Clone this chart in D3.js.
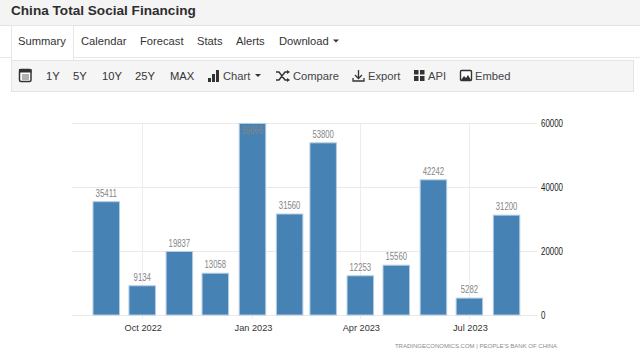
<!DOCTYPE html>
<html>
<head>
<meta charset="utf-8">
<script src="https://cdn.jsdelivr.net/npm/d3@7"></script>
<style>
  html, body { margin: 0; padding: 0; background: #fff; }
  svg { display: block; }
  text { font-family: "Liberation Sans", Arial, sans-serif; }
</style>
</head>
<body>
<svg id="chart" width="640" height="364"></svg>
<script>
const months = ["2022-09-01", "2022-10-01", "2022-11-01", "2022-12-01", "2023-01-01", "2023-02-01",
  "2023-03-01", "2023-04-01", "2023-05-01", "2023-06-01", "2023-07-01", "2023-08-01"];
const financing = [35411, 9134, 19837, 13058, 59866, 31560, 53800, 12253, 15560, 42242, 5282, 31200];
const yTicks = [0, 20000, 40000, 60000];
const xTicks = ["2022-10-01", "2023-01-01", "2023-04-01", "2023-07-01"];
const tabs = ["Summary", "Calendar", "Forecast", "Stats", "Alerts", "Download"];
const tabX = [18, 81, 140, 197, 236, 279];
const ranges = ["1Y", "5Y", "10Y", "25Y", "MAX"];
const rangeX = [46, 73, 102, 135, 170];
const tools = ["Chart", "Compare", "Export", "API", "Embed"];
const toolX = [223, 293, 368, 428, 475];

const svg = d3.select("#chart");
const parse = d3.utcParse("%Y-%m-%d");
const fmt = d3.utcFormat("%b %Y");

// cabecera y barras de la pagina
svg.append("rect").attr("width", 640).attr("height", 25).attr("fill", "#f4f4f4");
svg.append("rect").attr("y", 25).attr("width", 640).attr("height", 1).attr("fill", "#e2e2e2");
svg.append("text").attr("x", 11).attr("y", 15).attr("font-size", 13.6).attr("font-weight", "bold")
  .attr("fill", "#2d2d2d").text("China Total Social Financing");

svg.append("rect").attr("y", 57).attr("width", 640).attr("height", 1).attr("fill", "#e8e8e8");
svg.append("rect").attr("x", 11.5).attr("y", 25.5).attr("width", 62).attr("height", 34)
  .attr("fill", "#fff").attr("stroke", "#e6e6e6");
svg.append("rect").attr("x", 12).attr("y", 57).attr("width", 61).attr("height", 3).attr("fill", "#fff");

svg.selectAll(".tab").data(tabs).join("text").attr("class", "tab")
  .attr("x", (d, i) => tabX[i]).attr("y", 45).attr("font-size", 11.2).attr("fill", "#333").text(d => d);
svg.append("path").attr("d", "M333 39.500h6l-3 3z").attr("fill", "#333");

svg.append("rect").attr("x", 11.5).attr("y", 60.5).attr("width", 622).attr("height", 31)
  .attr("fill", "#f5f5f5").attr("stroke", "#e4e4e4");

svg.selectAll(".range").data(ranges).join("text").attr("class", "range")
  .attr("x", (d, i) => rangeX[i]).attr("y", 79.5).attr("font-size", 11.2).attr("fill", "#333").text(d => d);
svg.selectAll(".tool").data(tools).join("text").attr("class", "tool")
  .attr("x", (d, i) => toolX[i]).attr("y", 79.5).attr("font-size", 11.2).attr("fill", "#444").text(d => d);

// iconos
const icons = svg.append("g").attr("fill", "#333");
icons.append("rect").attr("x", 19.5).attr("y", 69.5).attr("width", 11.5).attr("height", 12).attr("rx", 1.5)
  .attr("fill", "#fff").attr("stroke", "#333").attr("stroke-width", 1.5);
icons.append("rect").attr("x", 19).attr("y", 69).attr("width", 12.5).attr("height", 3.500);
icons.append("path").attr("d", "M22 74.500h7v1h-7zM22 76.500h7v1h-7zM22 78.500h7v1h-7z").attr("fill", "#666");
icons.append("path").attr("d", "M208 78h3v4h-3zM212 74h3v8h-3zM216 70h3v12h-3z");
icons.append("path").attr("d", "M255 74h6l-3 3z");
icons.append("path").attr("d", "M276 72h3l6 8h3M276 80h3l6-8h3").attr("fill", "none").attr("stroke", "#333").attr("stroke-width", 1.4);
icons.append("path").attr("d", "M287 70v4l3-2zM287 78v4l3-2z");
icons.append("path").attr("d", "M358.500 70v8M355 75l3.500 3.500 3.500-3.500M353 78v3h11v-3").attr("fill", "none").attr("stroke", "#333").attr("stroke-width", 1.3);
icons.append("path").attr("d", "M414 70h4.500v4.500h-4.500zM420 70h4.500v4.500h-4.500zM414 76h4.500v5h-4.500zM420 76h4.500v5h-4.500z");
icons.append("rect").attr("x", 460.500).attr("y", 70.500).attr("width", 11).attr("height", 10).attr("rx", 1)
  .attr("fill", "#fff").attr("stroke", "#333").attr("stroke-width", 1.4);
icons.append("path").attr("d", "M461 80l3-4 2 2 2-3 3 5z");

// escalas
const x = d3.scaleUtc()
  .domain([parse("2022-08-03"), parse("2023-08-26")])
  .range([72, 537]);
const y = d3.scaleLinear().domain([0, 60000]).range([315, 123]);
const barW = 26.5;

// grilla
svg.append("g").selectAll("line").data(yTicks).join("line")
  .attr("x1", 72).attr("x2", 537)
  .attr("y1", d => y(d) + 0.5).attr("y2", d => y(d) + 0.5)
  .attr("stroke", "#e9e9e9");
svg.append("g").selectAll("line").data(xTicks).join("line")
  .attr("x1", d => Math.round(x(parse(d))) - 0.5).attr("x2", d => Math.round(x(parse(d))) - 0.5)
  .attr("y1", 123).attr("y2", 319)
  .attr("stroke", "#ececec");

// barras
svg.append("g").selectAll("rect").data(financing).join("rect")
  .attr("x", (d, i) => x(parse(months[i])) - barW / 2 - 0.5)
  .attr("width", barW)
  .attr("y", d => y(d))
  .attr("height", d => y(0) - y(d))
  .attr("fill", "#4682b4")
  .attr("stroke", "#b5cde3")
  .attr("stroke-width", 1);

// etiquetas de valores
svg.append("g").selectAll("text").data(financing).join("text")
  .attr("x", (d, i) => x(parse(months[i])) - 0.5)
  .attr("y", d => d > 59000 ? y(d) + 11 : y(d) - 5)
  .attr("text-anchor", "middle")
  .attr("font-size", 10.5)
  .attr("textLength", d => String(d).length * 4.3)
  .attr("lengthAdjust", "spacingAndGlyphs")
  .attr("fill", "#858585")
  .text(d => d);

// ejes
const xAxis = d3.axisBottom(x)
  .tickValues(xTicks.map(parse))
  .tickFormat(fmt)
  .tickSize(0)
  .tickPadding(9);
const xg = svg.append("g").attr("transform", "translate(0,315)").call(xAxis);
xg.select(".domain").remove();
xg.selectAll("text").attr("font-size", 9.2).attr("font-family", "'Liberation Sans'").attr("fill", "#333");

const yAxis = d3.axisRight(y).tickValues(yTicks).tickFormat(d => d).tickSize(0).tickPadding(0);
const yg = svg.append("g").attr("transform", "translate(541,0)").call(yAxis);
yg.select(".domain").remove();
yg.selectAll("text").attr("font-size", 10).attr("font-family", "'Liberation Sans'").attr("fill", "#222")
  .attr("textLength", d => String(d).length * 4.4)
  .attr("lengthAdjust", "spacingAndGlyphs");

svg.append("text").attr("x", 557).attr("y", 348).attr("text-anchor", "end")
  .attr("font-size", 6).attr("fill", "#8a8a8a")
  .text("TRADINGECONOMICS.COM  |  PEOPLE'S BANK OF CHINA");
</script>
</body>
</html>
